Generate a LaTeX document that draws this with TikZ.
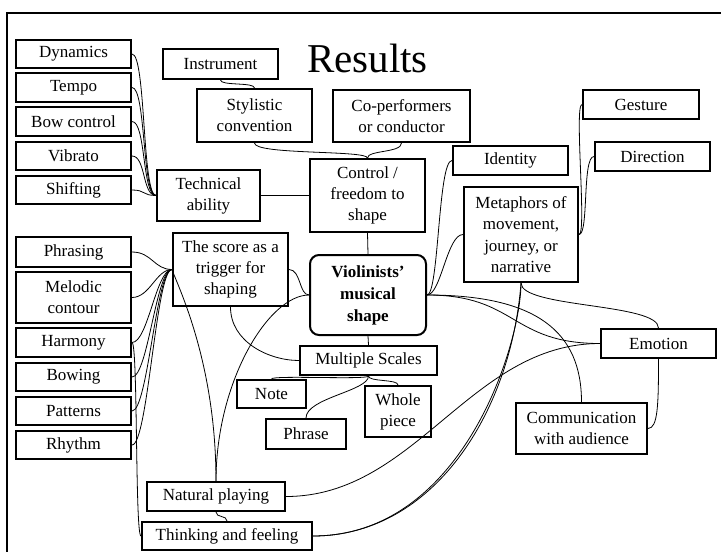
\documentclass[tikz,border=0pt]{standalone}
\usepackage{fontspec}
\setmainfont{Liberation Serif}
\usetikzlibrary{calc}
\tikzset{%
  box/.style={draw,line width=2pt,fill=white,align=center,inner sep=0,font=\fontsize{17}{21}\selectfont},
  rbox/.style={box,rounded corners=9pt,font=\fontsize{17}{22}\selectfont\bfseries},
  sz/.style 2 args={minimum width=#1pt,minimum height=#2pt},
  link/.style={draw,line width=0.8pt},
  frame/.style={draw,line width=2.5pt}
}

\begin{document}
\begin{tikzpicture}[x=1pt,y=-1pt]
    \useasboundingbox (0,0) rectangle (721,552);
    \draw[frame] (7,552) -- (7,13) -- (721,13);
    \path (367.5,72) node (title)[anchor=base,font=\fontsize{41}{41}\selectfont]{Results};
    % technique column and the upper boxes
    \path
      (73.5,54)     node (dyn)[box,sz={115}{28}]{Dynamics}
      (73.5,87.5)   node (tempo)[box,sz={115}{29}]{Tempo}
      (73.5,121.5)  node (bowctl)[box,sz={115}{29}]{Bow control}
      (73.5,156)    node (vib)[box,sz={115}{28}]{Vibrato}
      (73.5,190)    node (shift)[box,sz={115}{28}]{Shifting}
      (220.5,64)    node (instr)[box,sz={115}{30}]{Instrument}
      (254.5,115.5) node (styl)[box,sz={115}{53}]{Stylistic\\convention}
      (208.5,195.5) node (tech)[box,sz={103}{51}]{Technical\\ability}
      (367.5,195.5) node (ctrl)[box,sz={115}{73}]{Control /\\freedom to\\shape}
      (401.5,116)   node (coperf)[box,sz={137}{52}]{Co-performers\\or conductor}
      (510.5,160.5) node (ident)[box,sz={115}{29}]{Identity}
      (641,104.5)   node (gest)[box,sz={116}{29}]{Gesture}
      (652.5,156.5) node (dir)[box,sz={115}{29}]{Direction}
      (521,234.5)   node (meta)[box,sz={114}{95},font=\fontsize{17}{21.5}\selectfont]{Metaphors of\\movement,\\journey, or\\narrative};
    % score column and the lower boxes
    \path
      (73.5,252)    node (phrasing)[box,sz={115}{30}]{Phrasing}
      (73.5,297.5)  node (melod)[box,sz={115}{51}]{Melodic\\contour}
      (73.5,342.5)  node (harm)[box,sz={115}{29}]{Harmony}
      (73.5,377)    node (bowing)[box,sz={115}{28}]{Bowing}
      (73.5,411)    node (patt)[box,sz={115}{28}]{Patterns}
      (73.5,445)    node (rhythm)[box,sz={115}{28}]{Rhythm}
      (230.5,269.5) node (score)[box,sz={115}{73}]{The score as a\\trigger for\\shaping}
      (368,295)     node (viol)[rbox,sz={116}{80}]{Violinists'\\musical\\shape}
      (368.5,360.5) node (multi)[box,sz={137}{29}]{Multiple Scales}
      (271.5,394)   node (note)[box,sz={69}{28}]{Note}
      (398,411.5)   node (whole)[box,sz={66}{51}]{Whole\\piece}
      (306,434)     node (phrase)[box,sz={80}{30}]{Phrase}
      (216,496.5)   node (natural)[box,sz={138}{29}]{Natural playing}
      (227,536)     node (think)[box,sz={170}{28}]{Thinking and feeling}
      (658.5,343.5) node (emot)[box,sz={115}{29}]{Emotion}
      (581.5,428.5) node (comm)[box,sz={131}{51}]{Communication\\with audience};
    % links, upper part
    \draw[link] (dyn.east) .. controls +(14,0) and +(-14,0) .. (tech.west);
    \draw[link] (tempo.east) .. controls +(14,0) and +(-14,0) .. (tech.west);
    \draw[link] (bowctl.east) .. controls +(14,0) and +(-14,0) .. (tech.west);
    \draw[link] (vib.east) .. controls +(14,0) and +(-14,0) .. (tech.west);
    \draw[link] (shift.east) .. controls +(14,0) and +(-14,0) .. (tech.west);
    \draw[link] (instr.south) .. controls +(0,6) and +(0,-6) .. (styl.north);
    \draw[link] (styl.south) .. controls +(0,12) and +(0,-8) .. (ctrl.north);
    \draw[link] (coperf.south) .. controls +(0,10) and +(0,-8) .. (ctrl.north);
    \draw[link] (tech.east) -- (ctrl.west);
    \draw[link] (ctrl.south) -- (viol.north);
    \draw[link] (ident.west) .. controls +(-14,0) and +(12,0) .. (viol.east);
    \draw[link] (meta.west) .. controls +(-16,0) and +(14,0) .. (viol.east);
    \draw[link] (gest.west) .. controls +(-8,0) and +(8,0) .. (meta.east);
    \draw[link] (dir.west) .. controls +(-12,0) and +(10,0) .. (meta.east);
    % links, lower part
    \draw[link] (phrasing.east) .. controls +(20,0) and +(-18,0) .. (score.west);
    \draw[link] (melod.east) .. controls +(18,0) and +(-16,0) .. (score.west);
    \draw[link] (harm.east) .. controls +(16,0) and +(-16,0) .. (score.west);
    \draw[link] (bowing.east) .. controls +(16,0) and +(-16,0) .. (score.west);
    \draw[link] (patt.east) .. controls +(16,0) and +(-16,0) .. (score.west);
    \draw[link] (rhythm.east) .. controls +(16,0) and +(-16,0) .. (score.west);
    \draw[link] (harm.east) .. controls +(6,0) and +(-6,0) .. (think.west);
    \draw[link] (score.east) .. controls +(12,0) and +(-10,0) .. (viol.west);
    \draw[link] (score.south) .. controls +(0,35) and +(-30,0) .. (multi.west);
    \draw[link] (viol.south) -- (multi.north);
    \draw[link] (multi.south) .. controls +(0,4) and +(0,-4) .. (note.north);
    \draw[link] (multi.south) .. controls +(0,6) and +(0,-6) .. (whole.north);
    \draw[link] (multi.south) .. controls +(0,15) and +(0,-20) .. (phrase.north);
    \draw[link] (viol.east) .. controls +(90,0) and +(-90,0) .. (emot.west);
    \draw[link] (viol.east) .. controls +(110,0) and +(0,-70) .. (comm.north);
    \draw[link] (meta.south) .. controls +(0,25) and +(0,-25) .. (emot.north);
    \draw[link] (emot.south) .. controls +(0,45) and +(10,0) .. (comm.east);
    \draw[link] (emot.west) .. controls +(-130,0) and +(130,0) .. (natural.east);
    \draw[link] (meta.south) .. controls +(-10,130) and +(120,0) .. (think.east);
    \draw[link] (meta.south) .. controls +(0,60) and +(150,0) .. (think.east);
    \draw[link] (natural.north) .. controls +(0,-100) and +(-40,0) .. (viol.west);
    \draw[link] (score.west) .. controls +(5,15) and +(0,-120) .. (natural.north);
    \draw[link] (natural.south) .. controls +(0,6) and +(0,-6) .. (think.north);
\end{tikzpicture}
\end{document}
